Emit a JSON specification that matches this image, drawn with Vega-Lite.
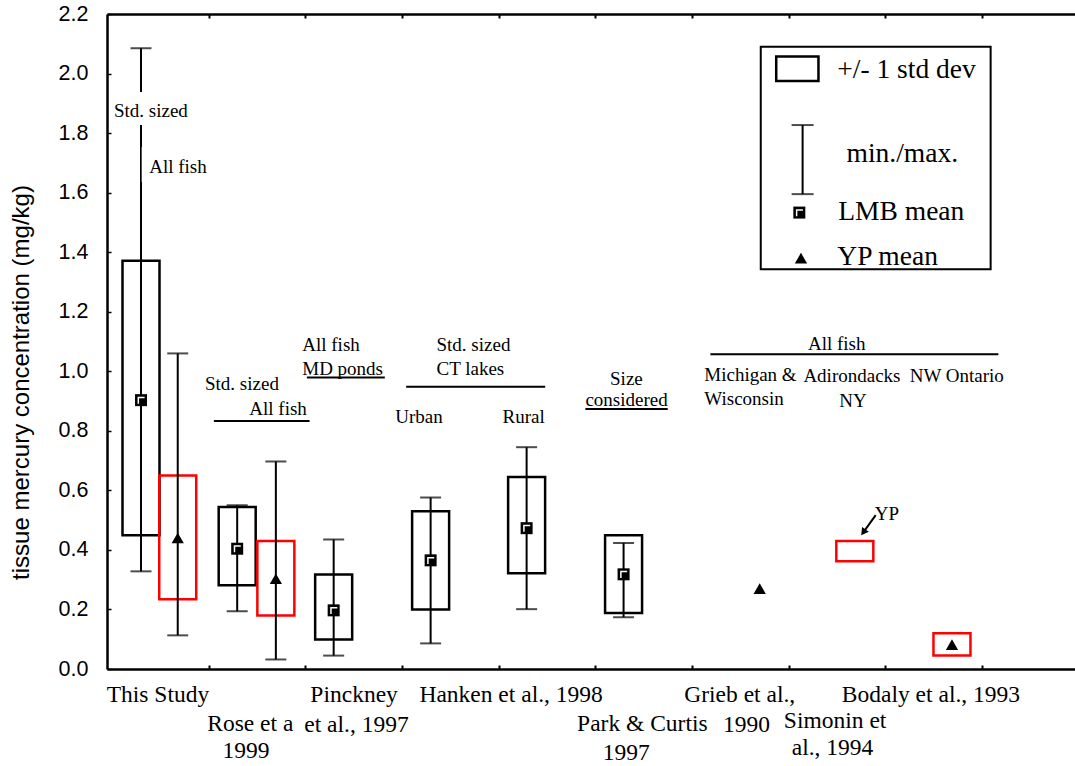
{
  "$schema": "https://vega.github.io/schema/vega-lite/v6.json",
  "width": 968,
  "height": 655,
  "autosize": {"type": "none"},
  "padding": {"left": 107, "top": 14, "right": 0, "bottom": 97},
  "background": "white",
  "config": {
    "view": {"stroke": null},
    "axis": {"grid": false, "domainColor": "black", "tickColor": "black", "labelColor": "black", "titleColor": "black"},
    "text": {"font": "Liberation Serif", "fontSize": 19, "color": "black", "align": "left", "baseline": "alphabetic"}
  },
  "datasets": {
    "stats": [
      {"study": "This Study", "species": "LMB", "pos": 0.30, "sd_lo": 0.449, "sd_hi": 1.371, "min": 0.328, "max": 2.085, "mean": 0.903},
      {"study": "This Study", "species": "YP", "pos": 0.68, "sd_lo": 0.234, "sd_hi": 0.650, "min": 0.113, "max": 1.06, "mean": 0.44},
      {"study": "Rose et al., 1999", "species": "LMB", "pos": 1.295, "sd_lo": 0.281, "sd_hi": 0.544, "min": 0.194, "max": 0.55, "mean": 0.404},
      {"study": "Rose et al., 1999", "species": "YP", "pos": 1.695, "sd_lo": 0.180, "sd_hi": 0.430, "min": 0.032, "max": 0.697, "mean": 0.303},
      {"study": "Pinckney et al., 1997", "species": "LMB", "pos": 2.293, "sd_lo": 0.099, "sd_hi": 0.317, "min": 0.045, "max": 0.435, "mean": 0.197},
      {"study": "Hanken et al., 1998 urban", "species": "LMB", "pos": 3.296, "sd_lo": 0.200, "sd_hi": 0.530, "min": 0.086, "max": 0.576, "mean": 0.365},
      {"study": "Hanken et al., 1998 rural", "species": "LMB", "pos": 4.289, "sd_lo": 0.322, "sd_hi": 0.645, "min": 0.201, "max": 0.745, "mean": 0.473},
      {"study": "Park & Curtis, 1997", "species": "LMB", "pos": 5.292, "sd_lo": 0.188, "sd_hi": 0.449, "min": 0.174, "max": 0.423, "mean": 0.318},
      {"study": "Grieb et al., 1990", "species": "YP", "pos": 6.70, "sd_lo": null, "sd_hi": null, "min": null, "max": null, "mean": 0.270},
      {"study": "Simonin et al., 1994", "species": "YP", "pos": 7.684, "sd_lo": 0.362, "sd_hi": 0.430, "min": null, "max": null, "mean": null},
      {"study": "Bodaly et al., 1993", "species": "YP", "pos": 8.689, "sd_lo": 0.045, "sd_hi": 0.120, "min": null, "max": null, "mean": 0.082}
    ],
    "groupNotes": [
      {"label": "Std. sized", "px": 0.020, "py": 1.855},
      {"label": "All fish", "px": 0.385, "py": 1.667},
      {"label": "Std. sized", "px": 0.962, "py": 0.937},
      {"label": "All fish", "px": 1.420, "py": 0.853},
      {"label": "All fish", "px": 1.968, "py": 1.068},
      {"label": "MD ponds", "px": 1.968, "py": 0.988},
      {"label": "Std. sized", "px": 3.357, "py": 1.068},
      {"label": "CT lakes", "px": 3.357, "py": 0.988},
      {"label": "Urban", "px": 2.930, "py": 0.827},
      {"label": "Rural", "px": 4.040, "py": 0.826},
      {"label": "Size", "px": 5.152, "py": 0.954},
      {"label": "considered", "px": 4.897, "py": 0.883},
      {"label": "All fish", "px": 7.199, "py": 1.072},
      {"label": "Michigan &", "px": 6.127, "py": 0.967},
      {"label": "Wisconsin", "px": 6.127, "py": 0.887},
      {"label": "Adirondacks", "px": 7.152, "py": 0.964},
      {"label": "NY", "px": 7.523, "py": 0.881},
      {"label": "NW Ontario", "px": 8.252, "py": 0.964},
      {"label": "YP", "px": 7.891, "py": 0.500}
    ],
    "groupLines": [
      {"from": 1.054, "to": 2.044, "at": 0.833},
      {"from": 2.016, "to": 2.822, "at": 0.979},
      {"from": 3.043, "to": 4.481, "at": 0.948},
      {"from": 4.897, "to": 5.749, "at": 0.873},
      {"from": 6.190, "to": 9.169, "at": 1.057}
    ],
    "studyLabels": [
      {"label": "This Study", "px": -0.055, "py": -0.111},
      {"label": "Pinckney", "px": 2.052, "py": -0.111},
      {"label": "Hanken et al., 1998", "px": 3.180, "py": -0.111},
      {"label": "Grieb et al.,", "px": 5.920, "py": -0.111},
      {"label": "Bodaly et al., 1993", "px": 7.550, "py": -0.111},
      {"label": "Rose et a", "px": 0.985, "py": -0.207},
      {"label": "et al., 1997", "px": 1.989, "py": -0.211},
      {"label": "Park & Curtis", "px": 4.811, "py": -0.207},
      {"label": "1990", "px": 6.321, "py": -0.211},
      {"label": "Simonin et", "px": 6.950, "py": -0.198},
      {"label": "1999", "px": 1.143, "py": -0.299},
      {"label": "1997", "px": 5.077, "py": -0.306},
      {"label": "al., 1994", "px": 7.032, "py": -0.289}
    ]
  },
  "resolve": {"axis": {"x": "independent", "y": "independent"}},
  "layer": [
    {
      "data": {"name": "stats"},
      "mark": {"type": "bar", "orient": "vertical", "size": 37, "fillOpacity": 0, "strokeWidth": 2.5},
      "encoding": {
        "x": {"field": "pos", "type": "quantitative", "scale": {"domain": [0, 9.91], "nice": false, "zero": false},
          "axis": {"orient": "bottom", "values": [1, 2, 3, 4, 5, 6, 7, 8, 9], "labels": false, "title": null, "tickSize": -4, "tickWidth": 2, "domainWidth": 2.5}},
        "y": {"field": "sd_lo", "type": "quantitative", "scale": {"domain": [0, 2.2], "nice": false, "zero": false},
          "axis": {"orient": "left", "values": [0, 0.2, 0.4, 0.6, 0.8, 1.0, 1.2, 1.4, 1.6, 1.8, 2.0, 2.2], "format": ".1f", "tickSize": -4, "tickWidth": 1.5, "domainWidth": 2.5,
            "labelFont": "Liberation Sans", "labelFontSize": 21.5, "labelPadding": 23,
            "title": "tissue mercury concentration (mg/kg)", "titleFont": "Liberation Sans", "titleFontSize": 24, "titleFontWeight": "normal",
            "titleX": -86, "titleY": 368, "titleBaseline": "middle", "titleAngle": -90}},
        "y2": {"field": "sd_hi"},
        "stroke": {"field": "species", "type": "nominal", "scale": {"domain": ["LMB", "YP"], "range": ["black", "#ff0000"]}, "legend": null}
      }
    },
    {
      "data": {"name": "stats"},
      "mark": {"type": "rule", "strokeWidth": 2, "color": "black"},
      "encoding": {
        "x": {"field": "pos", "type": "quantitative",
          "axis": {"orient": "top", "values": [1, 2, 3, 4, 5, 6, 7, 8, 9], "labels": false, "title": null, "tickSize": -4, "tickWidth": 2, "domainWidth": 2.5}},
        "y": {"field": "min", "type": "quantitative", "axis": null},
        "y2": {"field": "max"}
      }
    },
    {
      "data": {"name": "stats"},
      "transform": [{"fold": ["min", "max"], "as": ["end", "val"]}],
      "mark": {"type": "tick", "orient": "horizontal", "size": 21, "thickness": 2, "color": "black"},
      "encoding": {
        "x": {"field": "pos", "type": "quantitative", "axis": null},
        "y": {"field": "val", "type": "quantitative", "axis": null}
      }
    },
    {
      "data": {"name": "stats"},
      "transform": [{"filter": "datum.species === 'LMB'"}],
      "mark": {"type": "point", "shape": "square", "size": 144, "filled": true, "color": "black", "opacity": 1},
      "encoding": {
        "x": {"field": "pos", "type": "quantitative", "axis": null},
        "y": {"field": "mean", "type": "quantitative", "axis": null}
      }
    },
    {
      "data": {"name": "stats"},
      "transform": [{"filter": "datum.species === 'LMB'"}],
      "mark": {"type": "point", "shape": "M-0.45,0.6L-0.45,-0.45L0.6,-0.45", "size": 144, "filled": false, "stroke": "white", "strokeWidth": 1.5, "opacity": 1},
      "encoding": {
        "x": {"field": "pos", "type": "quantitative", "axis": null},
        "y": {"field": "mean", "type": "quantitative", "axis": null}
      }
    },
    {
      "data": {"name": "stats"},
      "transform": [{"filter": "datum.species === 'YP'"}],
      "mark": {"type": "point", "shape": "triangle-up", "size": 150, "filled": true, "color": "black", "opacity": 1},
      "encoding": {
        "x": {"field": "pos", "type": "quantitative", "axis": null},
        "y": {"field": "mean", "type": "quantitative", "axis": null}
      }
    },
    {
      "data": {"values": [
        {"x0": 0.01, "x1": 0.80, "y0": 1.827, "y1": 1.938},
        {"x0": 0.307, "x1": 0.95, "y0": 1.636, "y1": 1.753}
      ]},
      "mark": {"type": "rect", "fill": "white"},
      "encoding": {
        "x": {"field": "x0", "type": "quantitative", "axis": null},
        "x2": {"field": "x1"},
        "y": {"field": "y0", "type": "quantitative", "axis": null},
        "y2": {"field": "y1"}
      }
    },
    {
      "data": {"name": "groupLines"},
      "mark": {"type": "rule", "strokeWidth": 2, "color": "black"},
      "encoding": {
        "x": {"field": "from", "type": "quantitative", "axis": null},
        "x2": {"field": "to"},
        "y": {"field": "at", "type": "quantitative", "axis": null}
      }
    },
    {
      "data": {"name": "groupNotes"},
      "mark": {"type": "text", "fontSize": 19},
      "encoding": {
        "x": {"field": "px", "type": "quantitative", "axis": null},
        "y": {"field": "py", "type": "quantitative", "axis": null},
        "text": {"field": "label"}
      }
    },
    {
      "data": {"values": [{"x0": 7.900, "y0": 0.517, "x1": 7.772, "y1": 0.459}]},
      "mark": {"type": "rule", "strokeWidth": 2, "color": "black"},
      "encoding": {
        "x": {"field": "x0", "type": "quantitative", "axis": null},
        "y": {"field": "y0", "type": "quantitative", "axis": null},
        "x2": {"field": "x1"},
        "y2": {"field": "y1"}
      }
    },
    {
      "data": {"values": [{"x0": 7.772, "y0": 0.459}]},
      "mark": {"type": "point", "shape": "triangle-up", "size": 70, "filled": true, "color": "black", "opacity": 1, "angle": 216},
      "encoding": {
        "x": {"field": "x0", "type": "quantitative", "axis": null},
        "y": {"field": "y0", "type": "quantitative", "axis": null}
      }
    },
    {
      "data": {"name": "studyLabels"},
      "mark": {"type": "text", "fontSize": 23.5},
      "encoding": {
        "x": {"field": "px", "type": "quantitative", "axis": null},
        "y": {"field": "py", "type": "quantitative", "axis": null},
        "text": {"field": "label"}
      }
    },
    {
      "data": {"values": [{"x0": 6.711, "x1": 9.089, "y0": 1.343, "y1": 2.090}]},
      "mark": {"type": "rect", "fill": "white", "stroke": "black", "strokeWidth": 2},
      "encoding": {
        "x": {"field": "x0", "type": "quantitative", "axis": null},
        "x2": {"field": "x1"},
        "y": {"field": "y0", "type": "quantitative", "axis": null},
        "y2": {"field": "y1"}
      }
    },
    {
      "data": {"values": [{"x0": 6.871, "x1": 7.308, "y0": 1.975, "y1": 2.057}]},
      "mark": {"type": "rect", "fillOpacity": 0, "stroke": "black", "strokeWidth": 2.5},
      "encoding": {
        "x": {"field": "x0", "type": "quantitative", "axis": null},
        "x2": {"field": "x1"},
        "y": {"field": "y0", "type": "quantitative", "axis": null},
        "y2": {"field": "y1"}
      }
    },
    {
      "data": {"values": [{"kx": 7.144, "lo": 1.595, "hi": 1.827}]},
      "layer": [
        {
          "mark": {"type": "rule", "strokeWidth": 2, "color": "black"},
          "encoding": {
            "x": {"field": "kx", "type": "quantitative", "axis": null},
            "y": {"field": "lo", "type": "quantitative", "axis": null},
            "y2": {"field": "hi"}
          }
        },
        {
          "transform": [{"fold": ["lo", "hi"], "as": ["end", "val"]}],
          "mark": {"type": "tick", "orient": "horizontal", "size": 22, "thickness": 2, "color": "black"},
          "encoding": {
            "x": {"field": "kx", "type": "quantitative", "axis": null},
            "y": {"field": "val", "type": "quantitative", "axis": null}
          }
        }
      ]
    },
    {
      "data": {"values": [{"kx": 7.110, "ky": 1.533}]},
      "layer": [
        {
          "mark": {"type": "point", "shape": "square", "size": 144, "filled": true, "color": "black", "opacity": 1},
          "encoding": {
            "x": {"field": "kx", "type": "quantitative", "axis": null},
            "y": {"field": "ky", "type": "quantitative", "axis": null}
          }
        },
        {
          "mark": {"type": "point", "shape": "M-0.45,0.6L-0.45,-0.45L0.6,-0.45", "size": 144, "filled": false, "stroke": "white", "strokeWidth": 1.5, "opacity": 1},
          "encoding": {
            "x": {"field": "kx", "type": "quantitative", "axis": null},
            "y": {"field": "ky", "type": "quantitative", "axis": null}
          }
        }
      ]
    },
    {
      "data": {"values": [{"kx": 7.127, "ky": 1.380}]},
      "mark": {"type": "point", "shape": "triangle-up", "size": 150, "filled": true, "color": "black", "opacity": 1},
      "encoding": {
        "x": {"field": "kx", "type": "quantitative", "axis": null},
        "y": {"field": "ky", "type": "quantitative", "axis": null}
      }
    },
    {
      "data": {"values": [
        {"label": "+/- 1 std dev", "px": 7.503, "py": 1.984},
        {"label": "min./max.", "px": 7.598, "py": 1.702},
        {"label": "LMB mean", "px": 7.513, "py": 1.508},
        {"label": "YP mean", "px": 7.503, "py": 1.357}
      ]},
      "mark": {"type": "text", "fontSize": 27.5},
      "encoding": {
        "x": {"field": "px", "type": "quantitative", "axis": null},
        "y": {"field": "py", "type": "quantitative", "axis": null},
        "text": {"field": "label"}
      }
    }
  ]
}
